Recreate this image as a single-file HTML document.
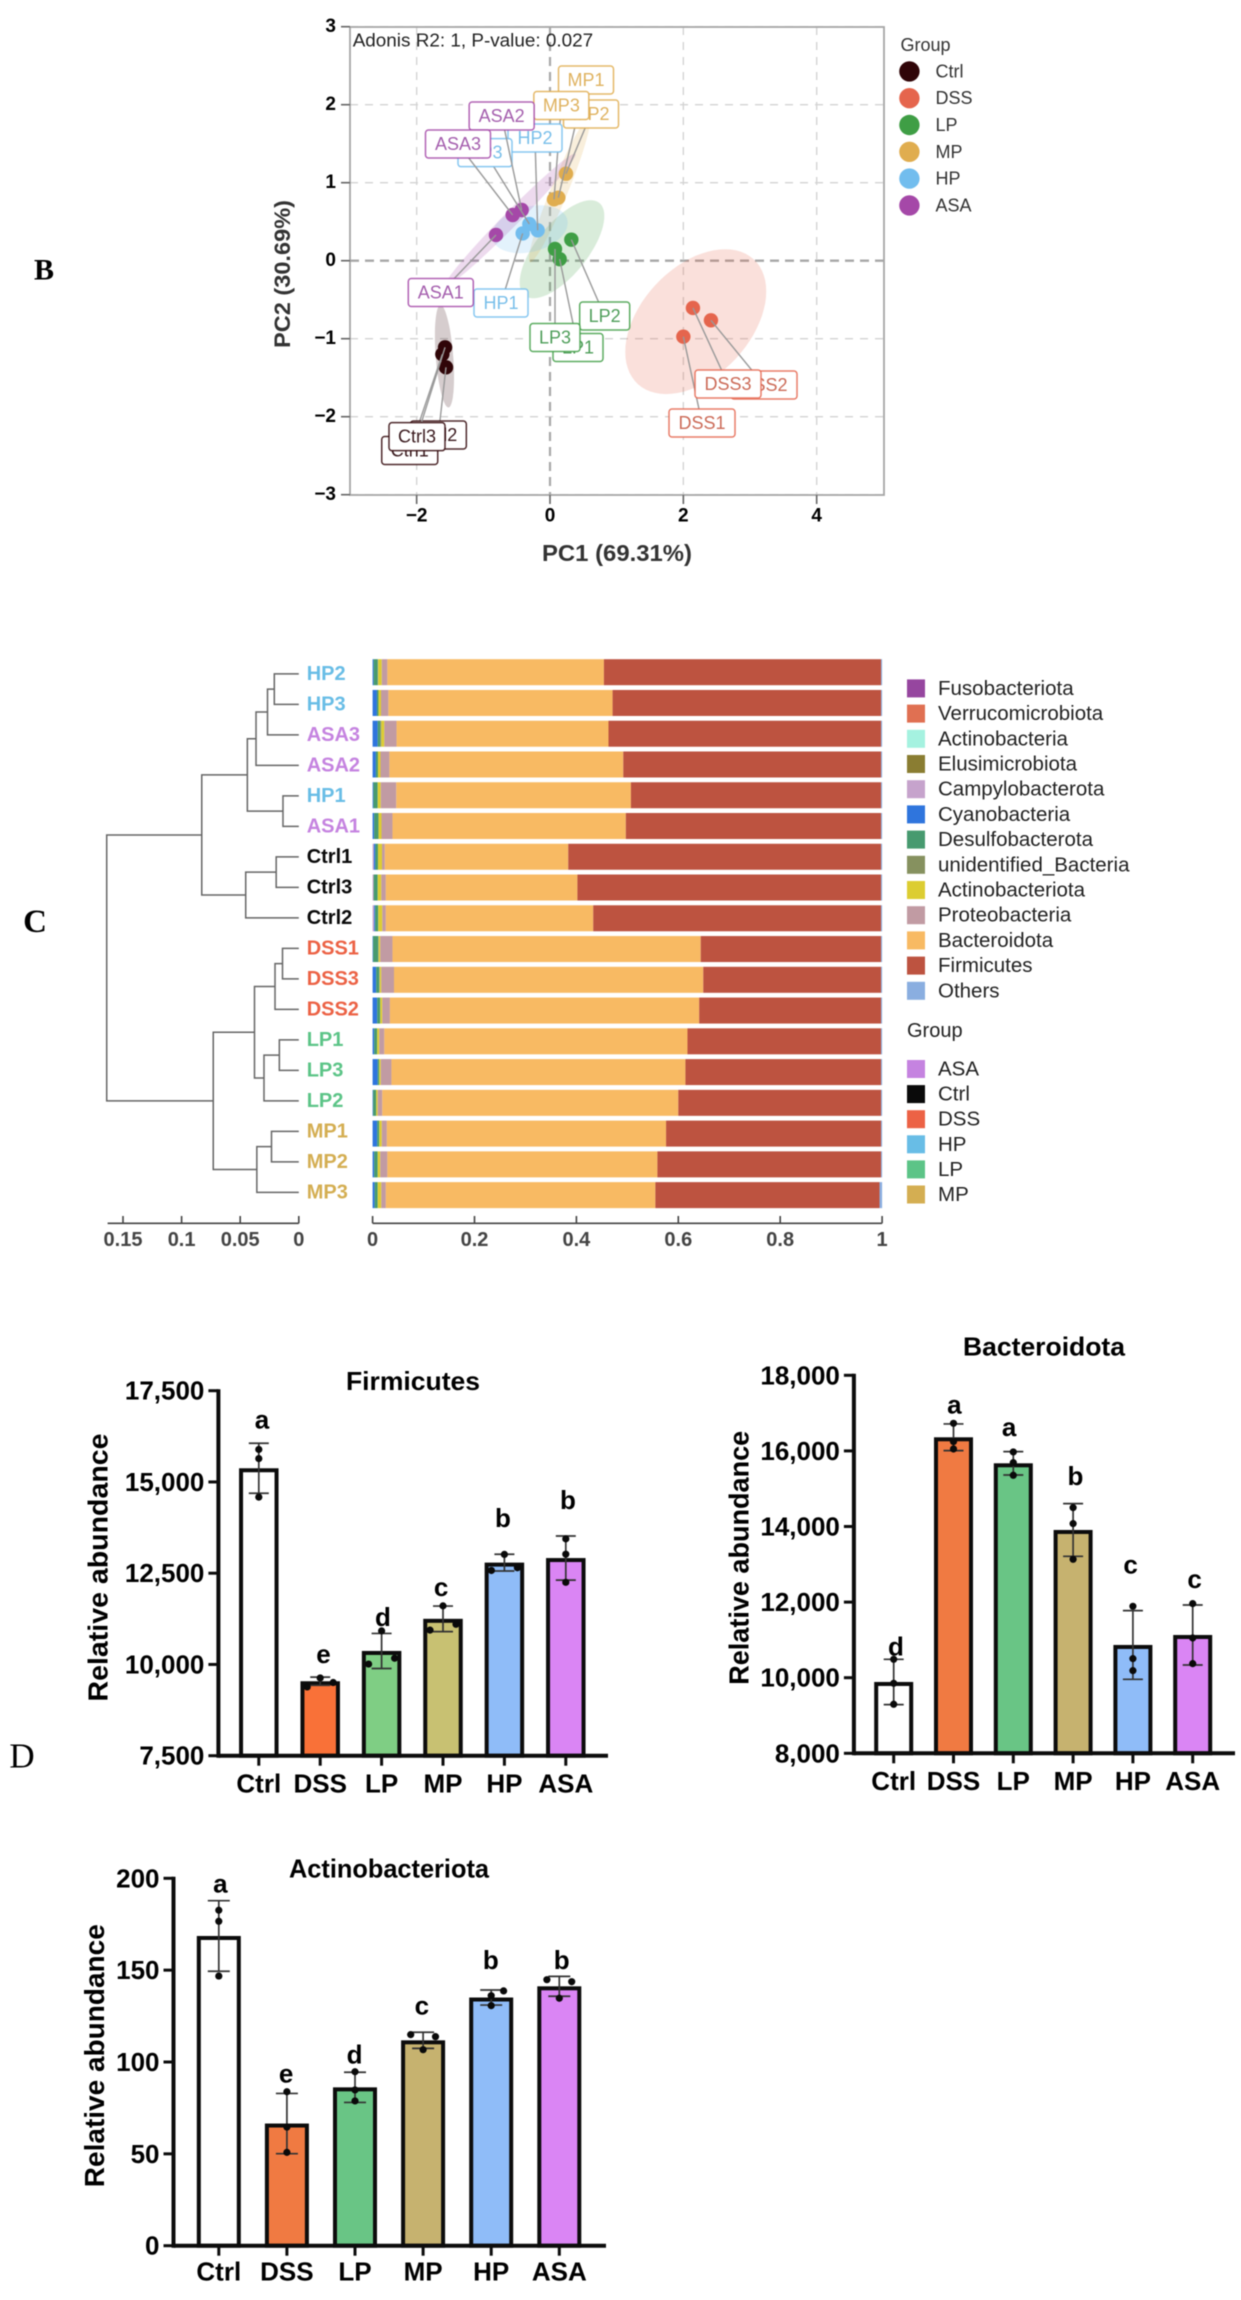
<!DOCTYPE html>
<html lang="en">
<head>
<meta charset="utf-8">
<title>Gut microbiota composition figure</title>
<style>
  html, body { margin: 0; padding: 0; background: #ffffff; }
  svg { display: block; font-family: "Liberation Sans", Arial, sans-serif; filter: blur(0.45px); }
  .panel-letter { font-family: "Liberation Serif", serif; fill: #000; }
</style>
</head>
<body>
<svg id="figure" xmlns="http://www.w3.org/2000/svg" width="1241" height="2300" viewBox="0 0 1241 2300">
  <rect x="0" y="0" width="1241" height="2300" fill="#ffffff"/>
  <text class="panel-letter" x="44" y="270" font-size="30" font-weight="700" text-anchor="middle" dominant-baseline="central">B</text>
  <text class="panel-letter" x="35" y="922" font-size="33" font-weight="700" text-anchor="middle" dominant-baseline="central">C</text>
  <text class="panel-letter" x="22" y="1756" font-size="35" text-anchor="middle" dominant-baseline="central">D</text>
  <g id="pca"></g>
  <g id="composition"></g>
  <g id="firmicutes"></g>
  <g id="bacteroidota"></g>
  <g id="actinobacteriota"></g>
</svg>
<script>
/* ---------- PCA data ---------- */
const pcaGroups = ['Ctrl', 'DSS', 'LP', 'MP', 'HP', 'ASA'];
const pc1Ctrl = [-1.615, -1.56, -1.574];
const pc2Ctrl = [-1.2, -1.367, -1.11];
const pc1DSS = [2.0, 2.414, 2.144];
const pc2DSS = [-0.974, -0.764, -0.606];
const pc1LP = [0.145, 0.32, 0.075];
const pc2LP = [0.02, 0.27, 0.15];
const pc1MP = [0.125, 0.24, 0.06];
const pc2MP = [0.808, 1.115, 0.787];
const pc1HP = [-0.41, -0.185, -0.31];
const pc2HP = [0.35, 0.39, 0.47];
const pc1ASA = [-0.81, -0.425, -0.56];
const pc2ASA = [0.33, 0.65, 0.586];
const labelPc1Ctrl = [-2.104, -1.675, -1.995];
const labelPc2Ctrl = [-2.433, -2.235, -2.256];
const labelPc1DSS = [2.28, 3.21, 2.67];
const labelPc2DSS = [-2.081, -1.594, -1.581];
const labelPc1LP = [0.42, 0.82, 0.075];
const labelPc2LP = [-1.113, -0.709, -0.985];
const labelPc1MP = [0.54, 0.615, 0.17];
const labelPc2MP = [2.317, 1.881, 1.99];
const labelPc1HP = [-0.735, -0.225, -0.975];
const labelPc2HP = [-0.542, 1.573, 1.385];
const labelPc1ASA = [-1.638, -0.725, -1.38];
const labelPc2ASA = [-0.408, 1.855, 1.496];
const pcaXTicks = [-2, 0, 2, 4];
const pcaYTicks = [-3, -2, -1, 0, 1, 2, 3];

/* ---------- Composition data (rows top to bottom) ---------- */
const sampleNames = ['HP2','HP3','ASA3','ASA2','HP1','ASA1','Ctrl1','Ctrl3','Ctrl2','DSS1','DSS3','DSS2','LP1','LP3','LP2','MP1','MP2','MP3'];
const sampleGroups = ['HP','HP','ASA','ASA','HP','ASA','Ctrl','Ctrl','Ctrl','DSS','DSS','DSS','LP','LP','LP','MP','MP','MP'];
const fusobacteriota =   [0,0,0,0,0,0,0,0,0,0,0,0,0,0,0,0,0,0];
const verrucomicrobiota =[0,0,0,0,0,0,0,0,0,0,0,0,0,0,0,0,0,0];
const actinobacteria =   [0,0,0,0,0,0,0,0,0,0,0,0,0,0,0,0,0,0];
const elusimicrobiota =  [0,0,0,0,0,0,0,0,0,0,0,0,0,0,0,0,0,0];
const campylobacterota = [0,0,0,0,0,0,0.0025,0.002,0.003,0,0,0,0,0,0,0,0,0];
const cyanobacteria =    [0.002,0.0085,0.010,0.0065,0.0015,0.003,0.003,0,0.002,0.001,0.007,0.009,0.003,0.010,0.001,0.009,0.003,0.004];
const desulfobacterota = [0.008,0.003,0.005,0.004,0.0085,0.0085,0.005,0.008,0.006,0.010,0.006,0.006,0.006,0.003,0.006,0.004,0.007,0.006];
const unidentifiedBacteria = [0.001,0,0.002,0,0,0,0,0,0,0.001,0.001,0,0,0,0,0,0,0];
const actinobacteriota = [0.007,0.005,0.006,0.005,0.006,0.006,0.008,0.007,0.008,0.003,0.003,0.004,0.004,0.003,0.003,0.005,0.005,0.007];
const proteobacteria =   [0.011,0.0145,0.024,0.0175,0.0305,0.0215,0.0055,0.009,0.007,0.024,0.025,0.015,0.010,0.021,0.009,0.010,0.014,0.009];
const bacteroidota =     [0.425,0.440,0.416,0.459,0.4605,0.458,0.360,0.376,0.407,0.605,0.607,0.607,0.595,0.577,0.581,0.548,0.530,0.529];
const firmicutes =       [0.544,0.527,0.535,0.506,0.491,0.501,0.614,0.596,0.565,0.354,0.349,0.357,0.380,0.384,0.398,0.422,0.439,0.440];
const others =           [0.002,0.002,0.002,0.002,0.002,0.002,0.002,0.002,0.002,0.002,0.002,0.002,0.002,0.002,0.002,0.002,0.002,0.005];
const taxaNames = ['Fusobacteriota','Verrucomicrobiota','Actinobacteria','Elusimicrobiota','Campylobacterota','Cyanobacteria','Desulfobacterota','unidentified_Bacteria','Actinobacteriota','Proteobacteria','Bacteroidota','Firmicutes','Others'];
const compositionTicks = [0, 0.2, 0.4, 0.6, 0.8, 1];
const groupLegendNames = ['ASA', 'Ctrl', 'DSS', 'HP', 'LP', 'MP'];

/* ---------- Dendrogram data: merges refer to leaf index (>=0) or earlier merge (~index) ---------- */
const mergeLeft =   [0, ~0, ~1, 4, ~2, 6, ~5, ~4, 9, ~8, 12, ~10, ~9, 15, ~13, ~12, ~7];
const mergeRight =  [1, 2, 3, 5, ~3, 7, 8, ~6, 10, 11, 13, 14, ~11, 16, 17, ~14, ~15];
const mergeHeight = [0.0209,0.0267,0.0365,0.0135,0.0439,0.0193,0.0453,0.0828,0.0139,0.0203,0.0166,0.0297,0.0378,0.0233,0.0358,0.073,0.1639];
const dendroTicks = [0.15, 0.1, 0.05, 0];

/* ---------- Bar chart data ---------- */
const barCategories = ['Ctrl', 'DSS', 'LP', 'MP', 'HP', 'ASA'];

const firmicutesMeans = [15375, 9540, 10370, 11250, 12790, 12915];
const firmicutesSd = [685, 112, 480, 350, 230, 605];
const firmicutesPoints = [[15890,15640,14585],[9385,9630,9505],[10010,10920,10170],[10940,11605,11100],[12575,13015,12650],[13440,13020,12250]];
const firmicutesSwarm = [[0,0,0],[-1,0,1],[-1,0,1],[-1,0,1],[-1,0,1],[0,0,0]];
const firmicutesLetters = ['a', 'e', 'd', 'c', 'b', 'b'];
const firmicutesTicks = [7500, 10000, 12500, 15000, 17500];

const bacteroidotaMeans = [9887, 16360, 15672, 13908, 10866, 11130];
const bacteroidotaSd = [600, 353, 309, 697, 908, 794];
const bacteroidotaPoints = [[10487,9852,9297],[16730,16245,16051],[15972,15690,15355],[14499,14076,13132],[11889,10505,10187],[11960,11051,10372]];
const bacteroidotaSwarm = [[0,0,0],[0,0,0],[0,0,0],[0,0,0],[0,0,0],[0,0,0]];
const bacteroidotaLetters = ['d', 'a', 'a', 'b', 'c', 'c'];
const bacteroidotaTicks = [8000, 10000, 12000, 14000, 16000, 18000];

const actinoMeans = [168.6, 66.5, 86.2, 111.8, 135.1, 141.2];
const actinoSd = [19.2, 16.4, 8.2, 4.4, 4.1, 5.4];
const actinoPoints = [[182.6,176.6,146.8],[83.8,64.6,50.8],[94.7,84.8,78.8],[114.9,113.8,106.7],[136.1,138.7,130.7],[144.8,143.7,134.7]];
const actinoSwarm = [[0,0,0],[0,0,0],[0,0,0],[-1,1,0],[0,1,0],[-1,1,0]];
const actinoLetters = ['a', 'e', 'd', 'c', 'b', 'b'];
const actinoTicks = [0, 50, 100, 150, 200];

/* ---------- Helpers ---------- */
const SVG_NS = 'http://www.w3.org/2000/svg';
function make(tag, parent, props, content) {
  const el = document.createElementNS(SVG_NS, tag);
  for (const key in props) el.setAttribute(key, props[key]);
  if (content !== undefined) el.textContent = content;
  parent.appendChild(el);
  return el;
}

/* ---------- PCA ---------- */
(function drawPca() {
  const root = document.getElementById('pca');
  const sx = v => 550 + v * 66.67;
  const sy = v => 260.7 - v * 78;
  const pts = { Ctrl:[pc1Ctrl,pc2Ctrl,labelPc1Ctrl,labelPc2Ctrl], DSS:[pc1DSS,pc2DSS,labelPc1DSS,labelPc2DSS], LP:[pc1LP,pc2LP,labelPc1LP,labelPc2LP], MP:[pc1MP,pc2MP,labelPc1MP,labelPc2MP], HP:[pc1HP,pc2HP,labelPc1HP,labelPc2HP], ASA:[pc1ASA,pc2ASA,labelPc1ASA,labelPc2ASA] };
  const pointColor = { Ctrl:'#300508', DSS:'#e5654d', LP:'#3f9e45', MP:'#e0ad4f', HP:'#72bdee', ASA:'#a548a8' };
  const textColor = { Ctrl:'#3a1a1e', DSS:'#cc6b58', LP:'#4f9e5a', MP:'#dfb25f', HP:'#79bfea', ASA:'#a55fae' };
  const labelWidth = { Ctrl:56, DSS:66, LP:50, MP:55, HP:54, ASA:65 };

  pcaYTicks.forEach(t => {
    const line = make('line', root, { x1:350, x2:884, y1:sy(t), y2:sy(t), stroke: t === 0 ? '#a8a8a8' : '#d4d4d4', 'stroke-width': t === 0 ? 2.4 : 1.4, 'stroke-dasharray': t === 0 ? '9 6' : '8 7' });
    
    
  });
  pcaXTicks.forEach(t => {
    const line = make('line', root, { x1:sx(t), x2:sx(t), y1:27, y2:495, stroke: t === 0 ? '#a8a8a8' : '#d4d4d4', 'stroke-width': t === 0 ? 2.2 : 1.4, 'stroke-dasharray': t === 0 ? '9 6' : '8 7' });
    
    
  });

  pcaGroups.forEach(g => {
    const xs = pts[g][0], ys = pts[g][1];
    const mx = xs.reduce((a,b)=>a+b,0)/3, my = ys.reduce((a,b)=>a+b,0)/3;
    let sxx = 0, syy = 0, sxy = 0;
    xs.forEach((x,i) => { sxx += (x-mx)*(x-mx); syy += (ys[i]-my)*(ys[i]-my); sxy += (x-mx)*(ys[i]-my); });
    const sdx = Math.sqrt(sxx/2), sdy = Math.sqrt(syy/2);
    const r = Math.max(-0.9999, Math.min(0.9999, (sxy/2)/(sdx*sdy)));
    const phase = Math.acos(r);
    const k = 5.03;
    let d = '';
    for (let a = 0; a < 72; a++) {
      const t = a/72*2*Math.PI;
      d += (a ? 'L' : 'M') + sx(mx + k*sdx*Math.cos(t)).toFixed(1) + ' ' + sy(my + k*sdy*Math.cos(t + phase)).toFixed(1);
    }
    const ell = make('path', root, { d: d+'Z', fill: pointColor[g], 'fill-opacity': 0.2 });
    
    
  });

  pcaGroups.forEach(g => {
    pts[g][0].forEach((x,i) => {
      const c = make('circle', root, { cx:sx(x), cy:sy(pts[g][1][i]), r:7.2, fill:pointColor[g] });
      
      
    });
  });

  pcaGroups.forEach(g => {
    pts[g][0].forEach((x,i) => {
      const lx = sx(pts[g][2][i]), ly = sy(pts[g][3][i]), w = labelWidth[g];
      const link = make('line', root, { x1:sx(x), y1:sy(pts[g][1][i]), x2:lx, y2:ly, stroke:'#999999', 'stroke-width':1.4 });
      
      
      const box = make('rect', root, { x:lx-w/2, y:ly-14, width:w, height:28, rx:3, fill:'#ffffff', stroke:pointColor[g], 'stroke-opacity':0.85, 'stroke-width':1.5 });
      
      
      const txt = make('text', root, { x:lx, y:ly, 'font-size':18, fill:textColor[g], 'text-anchor':'middle', 'dominant-baseline':'central' }, g + (i+1));
      
      
    });
  });

  const frame = make('rect', root, { x:350, y:27, width:534, height:468, fill:'none', stroke:'#a6a6a6', 'stroke-width':1.8 });
  
  

  pcaYTicks.forEach(t => {
    const tick = make('line', root, { x1:341, x2:350, y1:sy(t), y2:sy(t), stroke:'#666', 'stroke-width':1.6 });
    
    
    const lab = make('text', root, { x:336, y:sy(t), 'font-size':19, 'font-weight':700, 'text-anchor':'end', 'dominant-baseline':'central', fill:'#000' }, String(t).replace('-', '\u2212'));
    
    
  });
  pcaXTicks.forEach(t => {
    const tick = make('line', root, { x1:sx(t), x2:sx(t), y1:495, y2:504, stroke:'#666', 'stroke-width':1.6 });
    
    
    const lab = make('text', root, { x:sx(t), y:516, 'font-size':19, 'font-weight':700, 'text-anchor':'middle', 'dominant-baseline':'central', fill:'#000' }, String(t).replace('-', '\u2212'));
    
    
  });

  const xTitle = make('text', root, { x:617, y:553, 'font-size':23, 'font-weight':700, fill:'#333', 'text-anchor':'middle', 'dominant-baseline':'central', textLength:150, lengthAdjust:'spacingAndGlyphs' }, 'PC1 (69.31%)');
  
  
  const yTitle = make('text', root, { transform:'translate(282.6 274) rotate(-90)', 'font-size':22, 'font-weight':700, fill:'#333', 'text-anchor':'middle', 'dominant-baseline':'central', textLength:148, lengthAdjust:'spacingAndGlyphs' }, 'PC2 (30.69%)');
  
  
  const note = make('text', root, { x:352.7, y:46.5, 'font-size':18.9, fill:'#222' }, 'Adonis R2: 1, P-value: 0.027');
  
  

  const legendTitle = make('text', root, { x:900.5, y:45, 'font-size':18, fill:'#333', 'dominant-baseline':'central' }, 'Group');
  
  
  pcaGroups.forEach((g,i) => {
    const y = 71.4 + i*26.8;
    const dot = make('circle', root, { cx:909.4, cy:y, r:10.2, fill:pointColor[g] });
    
    
    const txt = make('text', root, { x:935.5, y:y, 'font-size':18, fill:'#333', 'dominant-baseline':'central' }, g);
    
    
  });
})();

/* ---------- Dendrogram + stacked bars ---------- */
(function drawComposition() {
  const root = document.getElementById('composition');
  const series = [fusobacteriota, verrucomicrobiota, actinobacteria, elusimicrobiota, campylobacterota, cyanobacteria, desulfobacterota, unidentifiedBacteria, actinobacteriota, proteobacteria, bacteroidota, firmicutes, others];
  const taxaColors = ['#96469f','#e07052','#a5f2e0','#8a7d32','#c6a3cc','#2f75dd','#479a6f','#86915f','#dccd32','#c19ba3','#f8ba63','#bd5340','#8aaee0'];
  const groupColors = { ASA:'#c583e0', Ctrl:'#0a0a0a', DSS:'#ec6245', HP:'#68bde6', LP:'#5cc487', MP:'#d4ae52' };
  const barX = v => 372.6 + v * 509.5;
  const dendX = v => 298.8 - v * 1172;
  const leafY = i => 673.9 + 30.5 * i;
  const rowY = i => 672.2 + 30.76 * i;

  const nodeY = [];
  const nodeH = [];
  const childY = c => c >= 0 ? leafY(c) : nodeY[~c];
  const childH = c => c >= 0 ? 0 : nodeH[~c];
  mergeHeight.forEach((h,i) => {
    const a = mergeLeft[i], b = mergeRight[i];
    const ya = childY(a), yb = childY(b);
    const branch = make('path', root, { d:`M${dendX(childH(a))} ${ya}H${dendX(h)}V${yb}H${dendX(childH(b))}`, fill:'none', stroke:'#666', 'stroke-width':1.5 });
    
    
    nodeY[i] = (ya + yb) / 2;
    nodeH[i] = h;
  });

  sampleNames.forEach((name,i) => {
    const lab = make('text', root, { x:306.7, y:leafY(i), 'font-size':20, 'font-weight':700, fill:groupColors[sampleGroups[i]], 'dominant-baseline':'central' }, name);
    
    
    let cum = 0;
    series.forEach((values,s) => {
      const v = values[i];
      if (v <= 0) return;
      const seg = make('rect', root, { x:barX(cum), y:rowY(i)-13, width:barX(cum+v)-barX(cum), height:26, fill:taxaColors[s] });
      
      
      cum += v;
    });
  });

  const dendAxis = make('line', root, { x1:107.6, x2:298.8, y1:1223.3, y2:1223.3, stroke:'#444', 'stroke-width':1.6 });
  
  
  dendroTicks.forEach(t => {
    const tick = make('line', root, { x1:dendX(t), x2:dendX(t), y1:1216, y2:1223.3, stroke:'#444', 'stroke-width':1.6 });
    
    
    const lab = make('text', root, { x:dendX(t), y:1240, 'font-size':20, 'font-weight':700, fill:'#444', 'text-anchor':'middle', 'dominant-baseline':'central' }, String(t));
    
    
  });
  const barAxis = make('line', root, { x1:barX(0), x2:barX(1), y1:1223.3, y2:1223.3, stroke:'#444', 'stroke-width':1.6 });
  
  
  compositionTicks.forEach(t => {
    const tick = make('line', root, { x1:barX(t), x2:barX(t), y1:1216, y2:1223.3, stroke:'#444', 'stroke-width':1.6 });
    
    
    const lab = make('text', root, { x:barX(t), y:1240, 'font-size':20, 'font-weight':700, fill:'#444', 'text-anchor':'middle', 'dominant-baseline':'central' }, String(t));
    
    
  });

  taxaNames.forEach((name,i) => {
    const y = 688.4 + i * 25.2;
    const key = make('rect', root, { x:907, y:y-9, width:18, height:18, fill:taxaColors[i] });
    
    
    const txt = make('text', root, { x:938, y:y, 'font-size':20.5, fill:'#222', 'dominant-baseline':'central' }, name);
    
    
  });
  const groupTitle = make('text', root, { x:907, y:1031, 'font-size':20, fill:'#222', 'dominant-baseline':'central' }, 'Group');
  
  
  groupLegendNames.forEach((name,i) => {
    const y = 1069 + i * 25.1;
    const key = make('rect', root, { x:907, y:y-9, width:18, height:18, fill:groupColors[name] });
    
    
    const txt = make('text', root, { x:938, y:y, 'font-size':20.5, fill:'#222', 'dominant-baseline':'central' }, name);
    
    
  });
})();

/* ---------- Bar charts ---------- */
function drawBarChart(id, d, g) {
  const root = document.getElementById(id);
  const sy = v => g.y0 - (v - g.min) / (g.max - g.min) * (g.y0 - g.y1);
  const cx = i => g.firstX + i * g.stepX;

  barCategories.forEach((cat,i) => {
    const topY = sy(d.means[i]);
    const bar = make('rect', root, { x:cx(i)-g.barW/2+2, y:topY+2, width:g.barW-4, height:g.y0-topY-2, fill:g.fills[i], stroke:'#0c0c0c', 'stroke-width':4 });
    
    
    const up = sy(d.means[i] + d.sd[i]), down = sy(d.means[i] - d.sd[i]);
    const err = make('path', root, { d:`M${cx(i)} ${up}V${down}M${cx(i)-g.cap} ${up}H${cx(i)+g.cap}M${cx(i)-g.cap} ${down}H${cx(i)+g.cap}`, fill:'none', stroke:'#333', 'stroke-width':1.7 });
    
    
    d.points[i].forEach((v,j) => {
      const p = make('circle', root, { cx:cx(i)+d.swarm[i][j]*g.swarmStep, cy:sy(v), r:3.6, fill:'#0a0a0a' });
      
      
    });
    const letter = d.letters[i];
    const letterCenter = up - g.letterLift[i];
    const baseline = letterCenter + ('bd'.includes(letter) ? 9 : 6.8);
    const lab = make('text', root, { x:cx(i)+g.letterShift[i], y:baseline, 'font-size':26, 'font-weight':700, 'text-anchor':'middle', fill:'#000' }, letter);
    
    
    const tick = make('line', root, { x1:cx(i), x2:cx(i), y1:g.y0, y2:g.y0+10, stroke:'#0c0c0c', 'stroke-width':3 });
    
    
    const xLab = make('text', root, { x:cx(i), y:g.xLabelY, 'font-size':26, 'font-weight':700, 'text-anchor':'middle', 'dominant-baseline':'central', fill:'#000' }, cat);
    
    
  });

  const yAxis = make('line', root, { x1:g.axisX, x2:g.axisX, y1:g.y1-1.5, y2:g.y0+2, stroke:'#0c0c0c', 'stroke-width':4 });
  
  
  const xAxis = make('line', root, { x1:g.axisX, x2:g.endX, y1:g.y0, y2:g.y0, stroke:'#0c0c0c', 'stroke-width':4 });
  
  

  d.ticks.forEach(t => {
    const tick = make('line', root, { x1:g.axisX-10, x2:g.axisX, y1:sy(t), y2:sy(t), stroke:'#0c0c0c', 'stroke-width':3 });
    
    
    const lab = make('text', root, { x:g.axisX-14, y:sy(t), 'font-size':26, 'font-weight':700, 'text-anchor':'end', 'dominant-baseline':'central', fill:'#000' }, t.toLocaleString('en-US'));
    
    
  });

  const title = make('text', root, { x:g.titleX, y:g.titleY, 'font-size':26, 'font-weight':700, 'text-anchor':'middle', 'dominant-baseline':'central', fill:'#000', textLength:g.titleLen, lengthAdjust:'spacingAndGlyphs' }, d.title);
  
  
  const yTitle = make('text', root, { transform:`translate(${g.yTitleX} ${g.yTitleY}) rotate(-90)`, 'font-size':28, 'font-weight':700, 'text-anchor':'middle', 'dominant-baseline':'central', fill:'#000', textLength:g.yTitleLen, lengthAdjust:'spacingAndGlyphs' }, 'Relative abundance');
  
  
}

drawBarChart('firmicutes',
  { title:'Firmicutes', means:firmicutesMeans, sd:firmicutesSd, points:firmicutesPoints, swarm:firmicutesSwarm, letters:firmicutesLetters, ticks:firmicutesTicks },
  { min:7500, max:17500, y0:1755.7, y1:1390.7, axisX:218.4, endX:608, firstX:258.8, stepX:61.4, barW:39.5, cap:10, swarmStep:13,
    fills:['#ffffff','#f97138','#7fce84','#c8c172','#8fbcf8','#da85f4'],
    letterLift:[21.6,20.8,16.3,17,36.4,35.8], letterShift:[3.2,3.3,1.3,-1.9,-1.5,2.1],
    xLabelY:1783.3, titleX:413, titleY:1381, titleLen:134, yTitleX:98, yTitleY:1567.5, yTitleLen:268 });

drawBarChart('bacteroidota',
  { title:'Bacteroidota', means:bacteroidotaMeans, sd:bacteroidotaSd, points:bacteroidotaPoints, swarm:bacteroidotaSwarm, letters:bacteroidotaLetters, ticks:bacteroidotaTicks },
  { min:8000, max:18000, y0:1753.3, y1:1375.3, axisX:853.9, endX:1235, firstX:893.7, stepX:59.8, barW:39, cap:10, swarmStep:13,
    fills:['#ffffff','#f07a42','#69c585','#c6b26f','#8fbcf8','#da85f4'],
    letterLift:[12.6,17.2,22.2,27.5,43.8,23.9], letterShift:[2.3,0.8,-4.2,2.3,-2.3,1.9],
    xLabelY:1781, titleX:1044, titleY:1346.7, titleLen:162, yTitleX:739, yTitleY:1557.8, yTitleLen:254 });

drawBarChart('actinobacteriota',
  { title:'Actinobacteriota', means:actinoMeans, sd:actinoSd, points:actinoPoints, swarm:actinoSwarm, letters:actinoLetters, ticks:actinoTicks },
  { min:0, max:200, y0:2245.7, y1:1878.3, axisX:173.5, endX:606, firstX:218.8, stepX:68.1, barW:44, cap:11, swarmStep:12.4,
    fills:['#ffffff','#f07a42','#69c585','#c6b26f','#8fbcf8','#da85f4'],
    letterLift:[14.9,17.6,17.9,24.5,29.9,16.3], letterShift:[1.6,-0.8,-0.4,-1.2,-0.4,2.4],
    xLabelY:2271.7, titleX:389, titleY:1868.3, titleLen:200, yTitleX:94.7, yTitleY:2055.7, yTitleLen:263 });
</script>
</body>
</html>
